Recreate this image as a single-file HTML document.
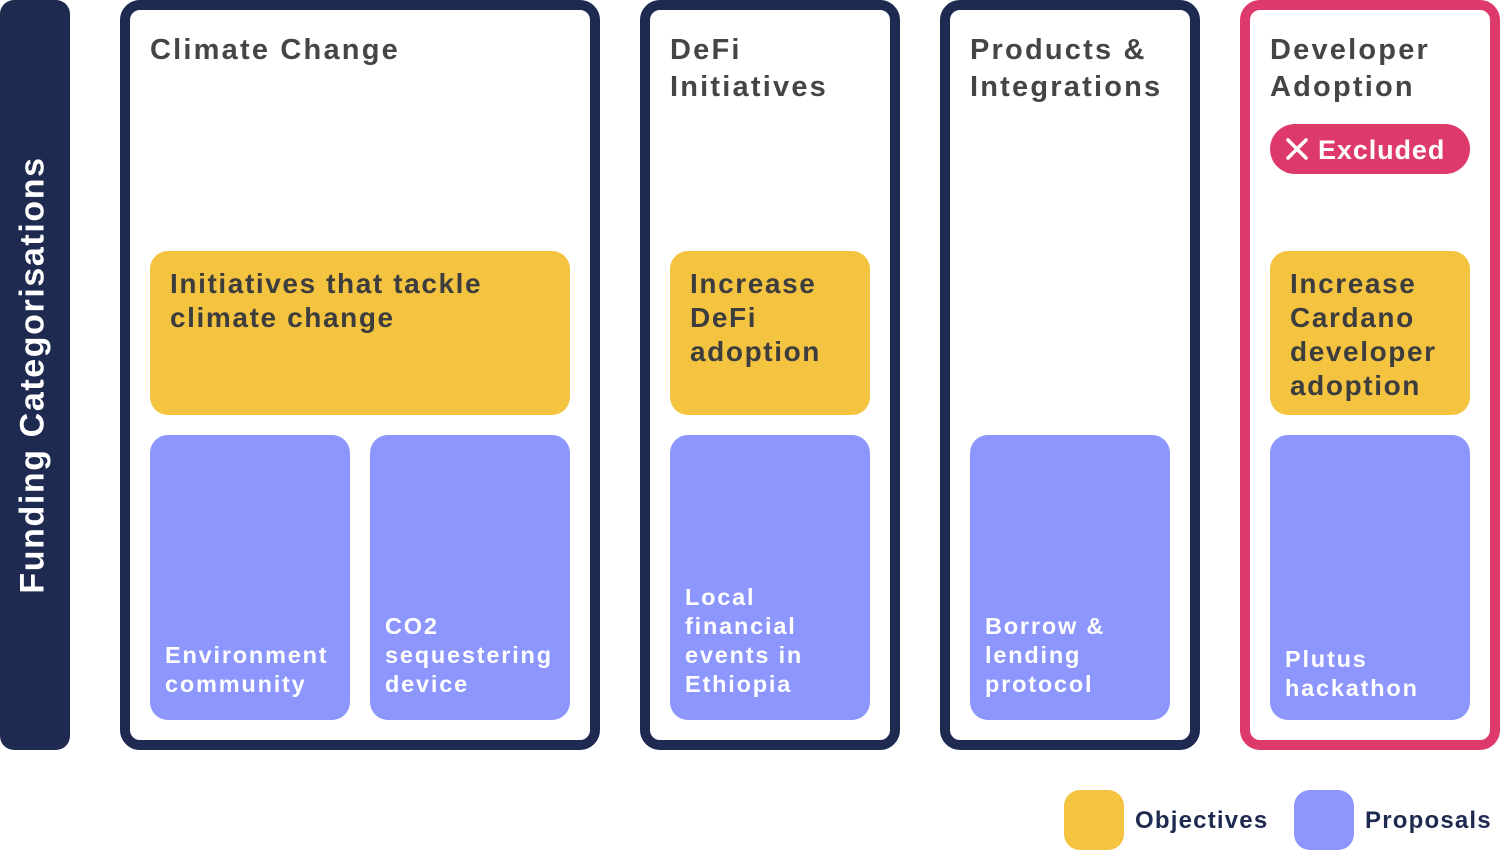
<!DOCTYPE html>
<html><head><meta charset="utf-8"><style>
body{margin:0;width:1500px;height:850px;background:#fff;position:relative;overflow:hidden;font-family:"Liberation Sans",sans-serif;font-weight:bold}
.a{position:absolute;box-sizing:border-box}
.side{left:0;top:0;width:70px;height:750px;background:#1f2a50;border-radius:14px}
.side span{position:absolute;left:33px;top:375px;transform:translate(-50%,-50%) rotate(-90deg);white-space:nowrap;color:#fff;font-size:34px;letter-spacing:1.6px}
.col{top:0;height:750px;border:10px solid #1f2a50;border-radius:20px}
.pink{border-color:#dd3a6b}
.t{color:#454545;font-size:29px;line-height:37px;letter-spacing:2.2px;top:32px}
.y{background:#f4c441;border-radius:18px;top:251px;height:164px;padding:16px 20px;color:#3d3d3d;font-size:28px;line-height:34px;letter-spacing:1.6px}
.p{background:#8c96fd;border-radius:18px;top:435px;height:285px;padding:0 15px 21px;color:#fff;font-size:23.5px;line-height:29px;letter-spacing:1.8px;display:flex;align-items:flex-end}
.badge{left:1270px;top:124px;width:200px;height:50px;background:#dd3a6b;border-radius:25px;color:#fff;font-size:27px;line-height:52px;padding-left:48px;letter-spacing:0.9px}
.leg{width:60px;height:60px;top:790px;border-radius:16px}
.lt{top:807px;color:#1f2a50;font-size:24px;letter-spacing:1.2px}
</style></head><body>
<div class="a side"><span>Funding Categorisations</span></div>
<div class="a col" style="left:120px;width:480px"></div>
<div class="a col" style="left:640px;width:260px"></div>
<div class="a col" style="left:940px;width:260px"></div>
<div class="a col pink" style="left:1240px;width:260px"></div>
<div class="a t" style="left:150px">Climate Change</div>
<div class="a t" style="left:670px">DeFi<br>Initiatives</div>
<div class="a t" style="left:970px">Products &amp;<br>Integrations</div>
<div class="a t" style="left:1270px">Developer<br>Adoption</div>
<div class="a badge"><svg style="position:absolute;left:16px;top:14px" width="22" height="22"><path d="M2 2L20 20M20 2L2 20" stroke="#fff" stroke-width="3.5" stroke-linecap="round"/></svg>Excluded</div>
<div class="a y" style="left:150px;width:420px">Initiatives that tackle<br>climate change</div>
<div class="a y" style="left:670px;width:200px">Increase<br>DeFi<br>adoption</div>
<div class="a y" style="left:1270px;width:200px">Increase<br>Cardano<br>developer<br>adoption</div>
<div class="a p" style="left:150px;width:200px"><div>Environment<br>community</div></div>
<div class="a p" style="left:370px;width:200px"><div>CO2<br>sequestering<br>device</div></div>
<div class="a p" style="left:670px;width:200px"><div>Local<br>financial<br>events in<br>Ethiopia</div></div>
<div class="a p" style="left:970px;width:200px"><div>Borrow &amp;<br>lending<br>protocol</div></div>
<div class="a p" style="left:1270px;width:200px;padding-bottom:17px"><div>Plutus<br>hackathon</div></div>
<div class="a leg" style="left:1064px;background:#f4c441"></div>
<div class="a lt" style="left:1135px">Objectives</div>
<div class="a leg" style="left:1294px;background:#8c96fd"></div>
<div class="a lt" style="left:1365px">Proposals</div>
</body></html>
